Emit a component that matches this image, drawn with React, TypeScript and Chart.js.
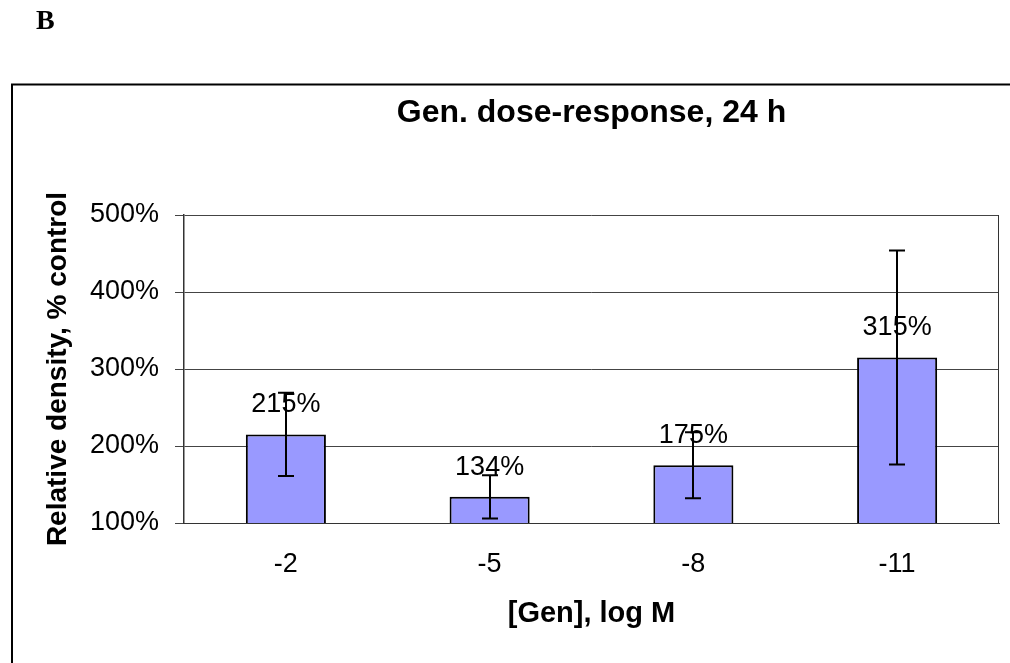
import React, { useEffect, useRef } from "react";
import { Chart, registerables } from "chart.js";

Chart.register(...registerables);

const categories = ["-2", "-5", "-8", "-11"];
const values = [215, 134, 175, 315];
const errors = [54, 28, 43, 139];
const yTicks = [100, 200, 300, 400, 500];
const titleText = "Gen. dose-response, 24 h";
const xTitle = "[Gen], log M";
const yTitle = "Relative density, % control";
const panelLetter = "B";

const FONT = "'Liberation Sans', Arial, sans-serif";

const decorPlugin = {
  id: "decor",
  beforeDraw(chart: any) {
    const ctx = chart.ctx;
    ctx.save();
    ctx.fillStyle = "#ffffff";
    ctx.fillRect(0, 0, chart.width, chart.height);
    ctx.strokeStyle = "#000";
    ctx.lineWidth = 2;
    ctx.strokeRect(12, 84.5, chart.width + 50, chart.height + 50);
    ctx.fillStyle = "#000";
    ctx.font = "bold 28px 'Liberation Serif', 'Times New Roman', serif";
    ctx.textAlign = "left";
    ctx.textBaseline = "alphabetic";
    ctx.fillText(panelLetter, 36, 29);
    ctx.restore();
  },
  afterDraw(chart: any) {
    const { ctx, chartArea } = chart;
    ctx.save();
    ctx.strokeStyle = "#333";
    ctx.lineWidth = 1;
    const r = Math.round(chartArea.right) - 0.5;
    ctx.beginPath();
    ctx.moveTo(r, Math.round(chartArea.top));
    ctx.lineTo(r, Math.round(chartArea.bottom));
    ctx.stroke();
    ctx.restore();
  },
};

const labelsAndErrors = {
  id: "labelsAndErrors",
  afterDatasetsDraw(chart: any) {
    const { ctx } = chart;
    const meta = chart.getDatasetMeta(0);
    const y = chart.scales.y;
    ctx.save();
    ctx.fillStyle = "#000";
    ctx.font = `27px ${FONT}`;
    ctx.textAlign = "center";
    ctx.textBaseline = "alphabetic";
    meta.data.forEach((bar: any, i: number) => {
      ctx.fillText(values[i] + "%", bar.x, bar.y - 22);
    });
    ctx.strokeStyle = "#000";
    ctx.lineWidth = 2;
    meta.data.forEach((bar: any, i: number) => {
      const x = Math.round(bar.x);
      const top = y.getPixelForValue(values[i] + errors[i]);
      const bot = y.getPixelForValue(values[i] - errors[i]);
      ctx.beginPath();
      ctx.moveTo(x, top);
      ctx.lineTo(x, bot);
      ctx.moveTo(x - 8, top);
      ctx.lineTo(x + 8, top);
      ctx.moveTo(x - 8, bot);
      ctx.lineTo(x + 8, bot);
      ctx.stroke();
    });
    ctx.restore();
  },
};

export default function App() {
  const ref = useRef<HTMLCanvasElement | null>(null);
  useEffect(() => {
    if (!ref.current) return;
    const chart = new Chart(ref.current, {
      type: "bar",
      data: {
        labels: categories,
        datasets: [
          {
            data: values,
            backgroundColor: "#9999FF",
            borderColor: "#000",
            borderWidth: 2,
            barPercentage: 0.393,
            categoryPercentage: 1,
          },
        ],
      },
      options: {
        responsive: false,
        animation: false,
        layout: { padding: { top: 84, left: 0, right: 11, bottom: 0 } },
        plugins: {
          legend: { display: false },
          tooltip: { enabled: false },
          title: {
            display: true,
            text: titleText,
            fullSize: false,
            color: "#000",
            font: { family: FONT, size: 32, weight: "bold" },
            padding: { top: 10, bottom: 82.6 },
          },
        },
        scales: {
          x: {
            grid: { display: false, drawTicks: false },
            border: { display: true, color: "#333", width: 1 },
            ticks: {
              color: "#000",
              font: { family: FONT, size: 27 },
              padding: 25,
            },
            title: {
              display: true,
              text: xTitle,
              color: "#000",
              font: { family: FONT, size: 29, weight: "bold" },
              padding: { top: 18, bottom: 31.5 },
            },
            afterFit: (s: any) => {
              s.height = 140;
            },
          },
          y: {
            min: 100,
            max: 500,
            afterBuildTicks: (s: any) => {
              s.ticks = yTicks.map((v) => ({ value: v }));
            },
            grid: {
              color: "#444",
              lineWidth: 1,
              drawTicks: true,
              tickLength: 9,
            },
            border: { display: true, color: "#333", width: 1.5 },
            ticks: {
              color: "#000",
              font: { family: FONT, size: 27 },
              padding: 16,
              callback: (v: any) => v + "%",
            },
            title: {
              display: true,
              text: yTitle,
              color: "#000",
              font: { family: FONT, size: 28, weight: "bold" },
              padding: { top: 41, bottom: 0 },
            },
            afterFit: (s: any) => {
              s.width = 184;
            },
          },
        },
      },
      plugins: [decorPlugin, labelsAndErrors],
    });
    return () => chart.destroy();
  }, []);
  return (
    <div style={{ position: "absolute", left: 0, top: 0, width: 1010, height: 663, overflow: "hidden", background: "#fff" }}>
      <canvas ref={ref} width={1010} height={663} style={{ display: "block" }} />
    </div>
  );
}
